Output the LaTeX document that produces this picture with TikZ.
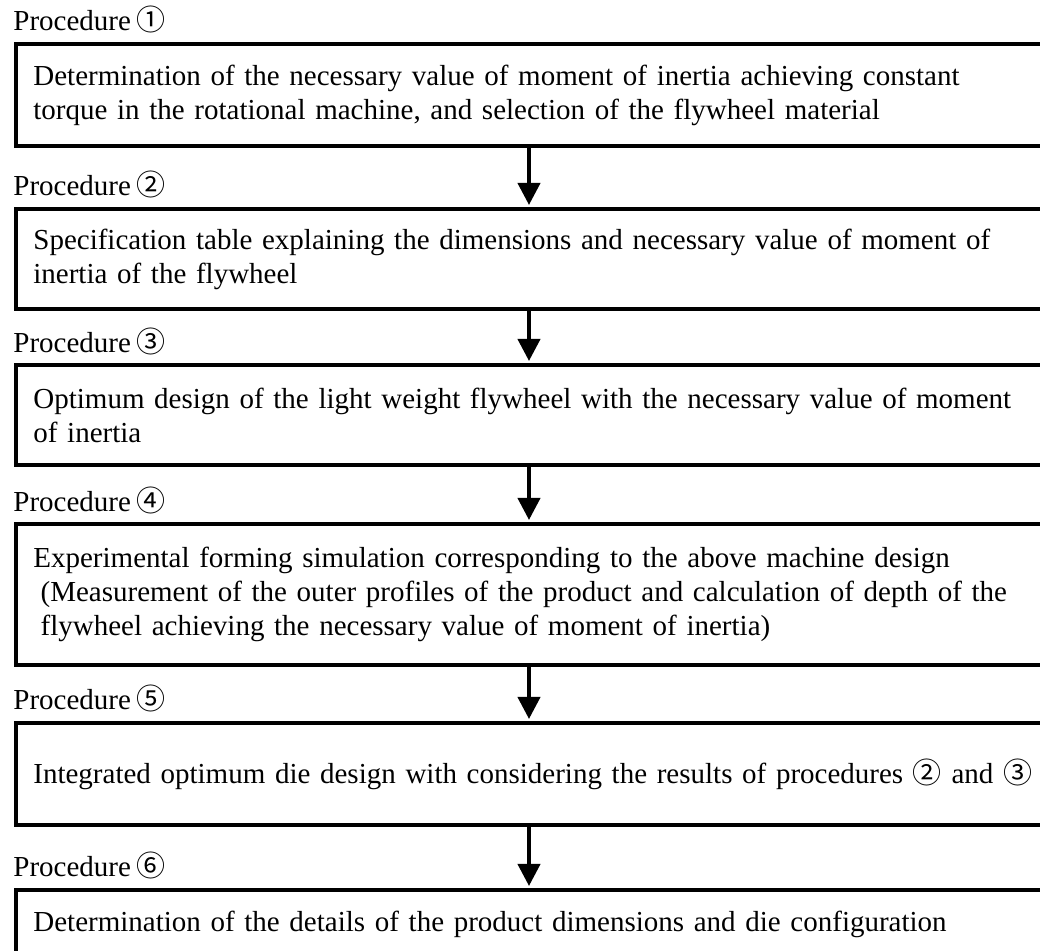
\documentclass[tikz,border=0pt]{standalone}
\usepackage{fontspec}
\setmainfont{Liberation Serif}[WordSpace=0.7]
\newfontfamily\circfont{Noto Sans CJK JP}
\usetikzlibrary{arrows.meta}
\newcommand{\pnum}[1]{{\circfont #1}}

\begin{document}
\begin{tikzpicture}[x=0.5pt,y=-0.5pt,
		procbox/.style={draw,line width=2pt,anchor=north west,inner xsep=8.7pt,inner ysep=0pt,
			text width=540pt,align=left,font=\fontsize{14.5}{17}\selectfont},
		proclabel/.style={anchor=base west,inner sep=0pt,font=\fontsize{14.5}{17}\selectfont},
		flow/.style={-{Triangle[width=11pt,length=11pt]},line width=2pt,shorten >=1pt}]
			\useasboundingbox (0,0) rectangle (1040,951);
			\clip (0,0) rectangle (1040,951);
			% the six procedure boxes
			\node [procbox,minimum height=51.25pt] (p1) at (14,42) {Determination of the necessary value of moment of inertia achieving constant\\ torque in the rotational machine, and selection of the flywheel material};
			\node [procbox,minimum height=50pt] (p2) at (14,207) {Specification table explaining the dimensions and necessary value of moment of\\ inertia of the flywheel};
			\node [procbox,minimum height=50pt] (p3) at (14,363) {Optimum design of the light weight flywheel with the necessary value of moment\\ of inertia};
			\node [procbox,minimum height=70.5pt] (p4) at (14,522) {Experimental forming simulation corresponding to the above machine design\\ \hspace{0.25em}(Measurement of the outer profiles of the product and calculation of depth of the\\ \hspace{0.25em}flywheel achieving the necessary value of moment of inertia)};
			\node [procbox,minimum height=51pt] (p5) at (14,721) {Integrated optimum die design with considering the results of procedures \pnum{②} and \pnum{③}};
			\node [procbox,minimum height=34pt] (p6) at (14,888) {Determination of the details of the product dimensions and die configuration};
			% labels above the boxes
			\node [proclabel] (l1) at (13,31) {Procedure \pnum{①}};
			\node [proclabel] (l2) at (13,196) {Procedure \pnum{②}};
			\node [proclabel] (l3) at (13,353) {Procedure \pnum{③}};
			\node [proclabel] (l4) at (13,512) {Procedure \pnum{④}};
			\node [proclabel] (l5) at (13,710) {Procedure \pnum{⑤}};
			\node [proclabel] (l6) at (13,877) {Procedure \pnum{⑥}};
			% arrows down the middle
			\coordinate (spine) at (529,0);
			\draw[flow] (p1.south -| spine) -- (p2.north -| spine);
			\draw[flow] (p2.south -| spine) -- (p3.north -| spine);
			\draw[flow] (p3.south -| spine) -- (p4.north -| spine);
			\draw[flow] (p4.south -| spine) -- (p5.north -| spine);
			\draw[flow] (p5.south -| spine) -- (p6.north -| spine);
		\end{tikzpicture}
\end{document}
